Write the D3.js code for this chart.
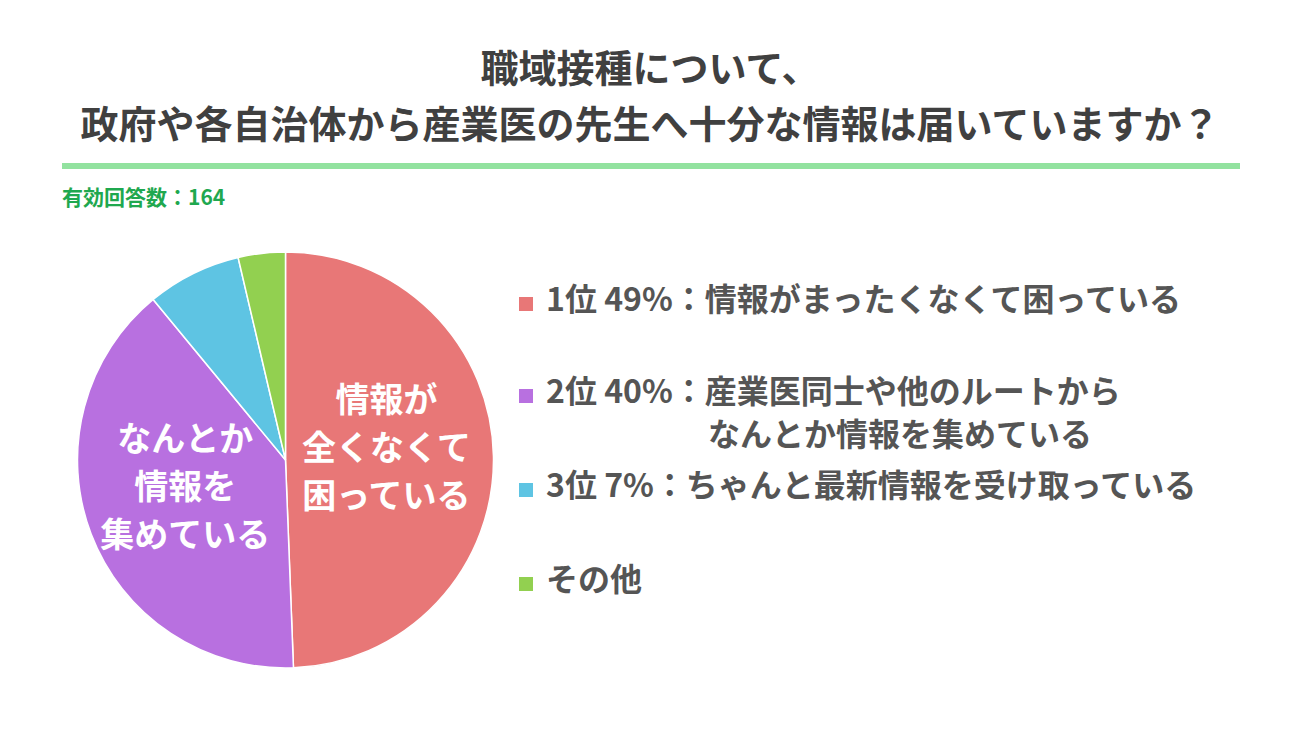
<!DOCTYPE html>
<html><head><meta charset="utf-8">
<script src="https://cdn.jsdelivr.net/npm/d3@7"></script>
<style>
html,body{margin:0;padding:0;background:#fff;}
svg{display:block;font-family:"Noto Sans CJK JP","Noto Sans",sans-serif;}
</style></head>
<body>
<svg id="chart" width="1300" height="731"></svg>
<script>
const titleLines = ["職域接種について、", "政府や各自治体から産業医の先生へ十分な情報は届いていますか？"];
const subtitle = "有効回答数：164";
const categories = ["情報がまったくなくて困っている", "産業医同士や他のルートからなんとか情報を集めている", "ちゃんと最新情報を受け取っている", "その他"];
const counts = [81, 65, 12, 6];
const colors = ["#E87777", "#B870E0", "#5EC4E3", "#92D050"];
const legendLines = [
  ["1位 49%：情報がまったくなくて困っている"],
  ["2位 40%：産業医同士や他のルートから", "なんとか情報を集めている"],
  ["3位 7%：ちゃんと最新情報を受け取っている"],
  ["その他"]
];
const sliceLabels = [["情報が", "全くなくて", "困っている"], ["なんとか", "情報を", "集めている"], [], []];

const svg = d3.select("#chart");

// Title
svg.append("g").selectAll("text").data(titleLines).join("text")
  .attr("x", 650).attr("y", (d, i) => 82 + i * 56)
  .attr("text-anchor", "middle")
  .attr("font-size", 38).attr("font-weight", 700)
  .attr("fill", "#404040")
  .text(d => d);

svg.append("rect").attr("x", 62).attr("y", 163).attr("width", 1178).attr("height", 6).attr("fill", "#92E29F");

svg.append("text").attr("x", 62).attr("y", 205)
  .attr("font-size", 21).attr("font-weight", 700).attr("fill", "#1FA84F")
  .text(subtitle);

// Pie
const cx = 285.5, cy = 460, r = 208;
const pie = d3.pie().sort(null).value(d => d);
const arcs = pie(counts);
const arc = d3.arc().innerRadius(0).outerRadius(r);
const labelArc = d3.arc().innerRadius(r * 0.5).outerRadius(r * 0.5);
const g = svg.append("g").attr("transform", `translate(${cx},${cy})`);
g.selectAll("path").data(arcs).join("path")
  .attr("d", arc)
  .attr("fill", (d, i) => colors[i])
  .attr("stroke", "#fff").attr("stroke-width", 1.5);

const lh = 48;
g.selectAll("g.lbl").data(arcs).join("g").attr("class", "lbl")
  .each(function(d, i) {
    const lines = sliceLabels[i];
    const [x, y] = labelArc.centroid(d);
    const y0 = y - 10 - (lines.length - 1) * lh / 2;
    d3.select(this).selectAll("text").data(lines).join("text")
      .attr("x", x - 3).attr("y", (t, j) => y0 + j * lh)
      .attr("dy", "0.36em")
      .attr("text-anchor", "middle")
      .attr("font-size", 34).attr("font-weight", 700)
      .attr("fill", "#fff")
      .text(t => t);
  });

// Legend
const legendY = [298, 390, 484, 578];
const lg = svg.append("g");
legendLines.forEach((lines, i) => {
  lg.append("rect").attr("x", 519).attr("y", legendY[i] - 1).attr("width", 14).attr("height", 14).attr("fill", colors[i]);
  lg.append("text").attr("x", 546).attr("y", legendY[i] + 13)
    .attr("font-size", 32).attr("font-weight", 700).attr("fill", "#555555")
    .text(lines[0]);
  if (lines[1]) {
    lg.append("text").attr("x", 708).attr("y", legendY[i] + 13 + 43)
      .attr("font-size", 32).attr("font-weight", 700).attr("fill", "#555555")
      .text(lines[1]);
  }
});
</script>
</body></html>
